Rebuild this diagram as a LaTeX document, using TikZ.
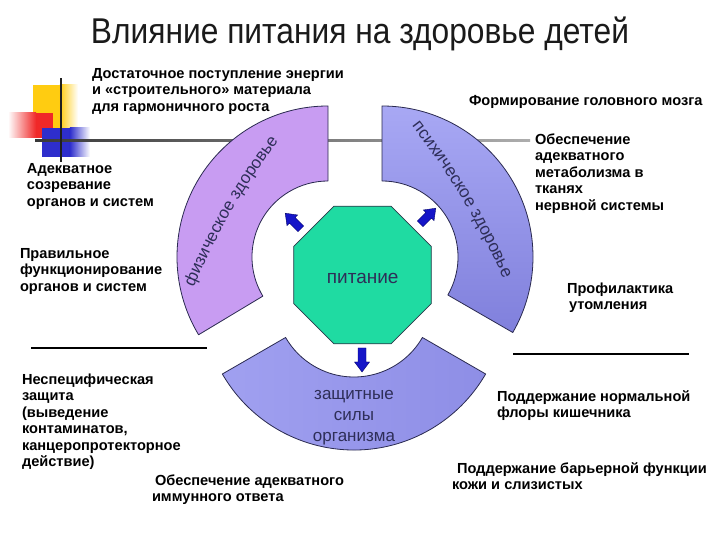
\documentclass[tikz,border=0pt]{standalone}
\usepackage{fontspec}
\usepackage{graphicx}
\setmainfont{Liberation Sans}
\usetikzlibrary{shapes.geometric,decorations.text}
\definecolor{arcLfill}{HTML}{C89CF2}
\definecolor{arcRtop}{HTML}{A8A8F4}
\definecolor{arcRbot}{HTML}{8080DC}
\definecolor{arcBleft}{HTML}{A0A0F0}
\definecolor{arcBright}{HTML}{8E8EE6}
\definecolor{arcedge}{HTML}{2A2A50}
\definecolor{octfill}{HTML}{1FDBA2}
\definecolor{octedge}{HTML}{2A3A4A}
\definecolor{arctext}{HTML}{2E2E58}
\definecolor{arrowfill}{HTML}{1515C8}
\definecolor{arrowedge}{HTML}{00006A}
\definecolor{decoyellow}{HTML}{FFCC11}
\definecolor{decored}{HTML}{F02828}
\definecolor{decoblue}{HTML}{2E2ECC}
\definecolor{titlecol}{HTML}{1A1A1A}
\begin{document}
\begin{tikzpicture}[x=1pt,y=1pt,
  txt/.style={anchor=north west, inner sep=0pt, outer sep=0pt, align=left,
    font=\bfseries\fontsize{14.6}{16.5}\selectfont, text=black},
  arcshape/.style={draw=arcedge, line width=0.8pt, line join=round},
  blkarrow/.style={fill=arrowfill, draw=arrowedge, line width=0.4pt, line join=miter},
  arclabel/.style={font=\fontsize{17}{21}\selectfont, text=arctext}
]
\useasboundingbox (0,0) rectangle (720,540);
\fill[white] (0,0) rectangle (720,540);

% decoration top-left
\fill[decoyellow] (33,408) rectangle (60,455);
\shade[left color=decoyellow, right color=white] (59.8,408) rectangle (78,455);
\shade[left color=white, right color=decored] (8,402) rectangle (36,427);
\fill[decored] (35.8,402) rectangle (53,427);
\fill[decoblue] (42,383) rectangle (70,412);
\shade[left color=decoblue, right color=white] (69.8,383) rectangle (90,412);

% horizontal line behind arcs
\shade[left color=black!78, right color=black!32] (35,398) rectangle (530,400.2);
\fill[black!88] (60.1,378) rectangle (62,462);

% left arc
\begin{scope}[shift={(328,283)}]
  \draw[arcshape, fill=arcLfill] (90:151) arc[start angle=90, end angle=211, radius=151pt]
    -- (211:76) arc[start angle=211, end angle=90, radius=76pt] -- cycle;
\end{scope}
% right arc
\begin{scope}[shift={(382,283)}]
  \draw[arcshape, top color=arcRtop, bottom color=arcRbot] (90:151) arc[start angle=90, end angle=-30, radius=151pt]
    -- (-30:76) arc[start angle=-30, end angle=90, radius=76pt] -- cycle;
\end{scope}
% bottom arc
\begin{scope}[shift={(354,242)}]
  \draw[arcshape, left color=arcBleft, right color=arcBright] (210:152) arc[start angle=210, end angle=330, radius=152pt]
    -- (330:79) arc[start angle=330, end angle=210, radius=79pt] -- cycle;
\end{scope}

% arc labels
\path[decorate, decoration={text along path, text align=center, text color=arctext,
  text={|\fontsize{16.8}{18}\selectfont|физическое здоровье}}]
  (187.5,238.4) to[bend left=7] (287.5,411.6);
\path[decorate, decoration={text along path, text align=center, text color=arctext,
  text={|\fontsize{17.2}{18}\selectfont|психическое здоровье}}]
  (402,426.8) to[bend left=7] (510,246.6);
\node[arclabel, anchor=north, align=center, inner sep=0pt] (prot) at (354,155.7)
  {\strut защитные\\силы\\организма};

% octagon
\node[regular polygon, regular polygon sides=8, minimum size=149pt, inner sep=0pt,
  outer sep=0pt, fill=octfill, draw=octedge, line width=0.8pt] (pit) at (362.5,265) {};
\node[font=\fontsize{19}{21}\selectfont, text=arctext, inner sep=0pt] (pitlbl) at (362.7,262) {питание};

% block arrows
\begin{scope}[shift={(293,319)}, rotate=135]
  \draw[blkarrow] (-11,-4) -- (1,-4) -- (1,-7.5) -- (11,0) -- (1,7.5) -- (1,4) -- (-11,4) -- cycle;
\end{scope}
\begin{scope}[shift={(428,324)}, rotate=45]
  \draw[blkarrow] (-11,-4) -- (1,-4) -- (1,-7.5) -- (11,0) -- (1,7.5) -- (1,4) -- (-11,4) -- cycle;
\end{scope}
\begin{scope}[shift={(362,180)}, rotate=-90]
  \draw[blkarrow] (-12,-4) -- (2,-4) -- (2,-7.5) -- (12,0) -- (2,7.5) -- (2,4) -- (-12,4) -- cycle;
\end{scope}

% separator lines
\draw[line width=1.6pt, black] (31,192) -- (207,192);
\draw[line width=1.6pt, black] (513,186) -- (689,186);

% title
\node[anchor=base, inner sep=0pt, text=titlecol] (title) at (360,496)
  {\resizebox{538pt}{26.6pt}{\fontsize{32}{32}\selectfont Влияние питания на здоровье детей}};

% texts
\node[txt] (tA) at (92,473.5) {\strut Достаточное поступление энергии\\и «строительного» материала\\для гармоничного роста};
\node[txt] (tB) at (469,446) {\strut Формирование головного мозга};
\node[txt] (tC) at (535,407.5) {\strut Обеспечение\\адекватного\\метаболизма в\\тканях\\нервной системы};
\node[txt] (tD) at (27,378.5) {\strut Адекватное\\созревание\\органов и систем};
\node[txt] (tE) at (20,293.5) {\strut Правильное\\функционирование\\органов и систем};
\node[txt] (tF) at (567,258.5) {\strut Профилактика\\\hspace*{2pt}утомления};
\node[txt] (tG) at (22,167.5) {\strut Неспецифическая\\защита\\(выведение\\контаминатов,\\канцеропротекторное\\действие)};
\node[txt] (tH) at (152,66.5) {\strut\hspace*{3pt}Обеспечение адекватного\\иммунного ответа};
\node[txt] (tI) at (497,150.5) {\strut Поддержание нормальной\\флоры кишечника};
\node[txt] (tJ) at (452,78.5) {\strut\hspace*{5pt}Поддержание барьерной функции\\кожи и слизистых};
\end{tikzpicture}
\end{document}
